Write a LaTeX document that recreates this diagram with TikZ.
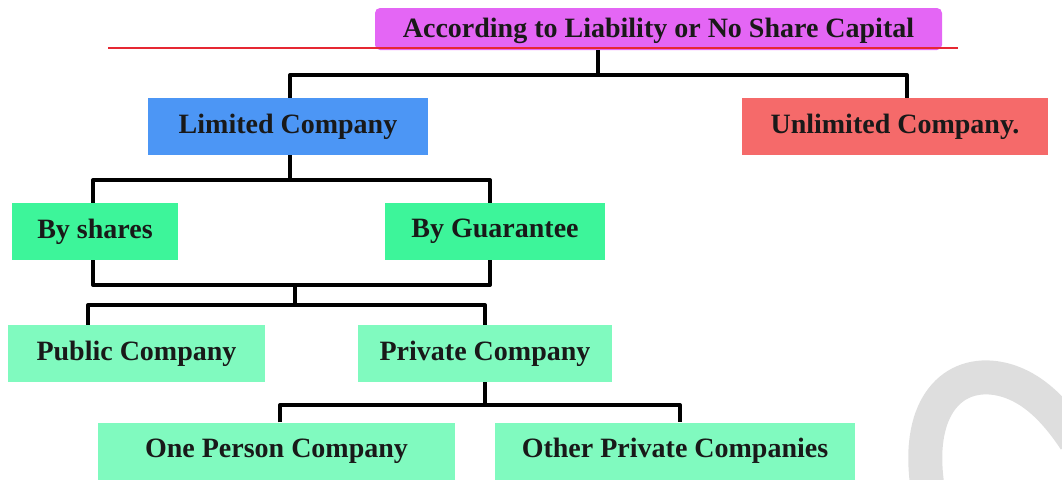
\documentclass[tikz,border=0pt]{standalone}
\usepackage{fontspec}
\setmainfont{Liberation Serif}
\definecolor{cmag}{HTML}{E466F5}
\definecolor{cblue}{HTML}{4C96F5}
\definecolor{cred}{HTML}{F56A6A}
\definecolor{cgreen}{HTML}{3DF59A}
\definecolor{clight}{HTML}{80FABF}
\definecolor{redline}{RGB}{230,40,50}
\begin{document}
\begin{tikzpicture}[x=1pt,y=-1pt,
  box/.style={rectangle, inner sep=0pt, font=\fontsize{28}{32}\selectfont\bfseries, text=black!90},
  conn/.style={line width=4pt, black, line join=round}]
\useasboundingbox (0,0) rectangle (1062,479);
\begin{scope}
\clip (0,0) rectangle (1062,479);
\draw[line width=34pt, color=black!13] (928,490) .. controls (915,410) and (950,372) .. (995,378) .. controls (1030,383) and (1055,410) .. (1075,440);
\end{scope}
% nodes
\node[box, fill=cmag, rounded corners=5pt, minimum width=567pt, minimum height=42pt, text depth=2pt] (top) at (658.5,29) {According to Liability or No Share Capital};
\fill[redline] (108,46.5) rectangle (958,48.5);
\node[box, fill=cblue, minimum width=280pt, minimum height=57pt] (lim) at (288,126.5) {Limited Company};
\node[box, fill=cred, minimum width=306pt, minimum height=57pt] (unl) at (895,126.5) {Unlimited Company.};
\node[box, fill=cgreen, minimum width=166pt, minimum height=57pt] (shares) at (95,231.5) {By shares};
\node[box, fill=cgreen, minimum width=220pt, minimum height=57pt] (guar) at (495,231.5) {By Guarantee};
\node[box, fill=clight, minimum width=257pt, minimum height=57pt] (pub) at (136.5,353.5) {Public Company};
\node[box, fill=clight, minimum width=254pt, minimum height=57pt] (priv) at (485,353.5) {Private Company};
\node[box, fill=clight, minimum width=357pt, minimum height=57pt] (one) at (276.5,451) {One Person Company};
\node[box, fill=clight, minimum width=360pt, minimum height=57pt] (oth) at (675,451) {Other Private Companies};
% connectors
\coordinate (j1) at (598,75);
\draw[conn] (top.south -| j1) -- (j1);
\draw[conn] (lim.north -| 290,0) -- (290,75) -- (907,75) -- (907,98);
\draw[conn] (lim.south -| 290,0) -- (290,180);
\draw[conn] (shares.north -| 93,0) -- (93,180) -- (490,180) -- (guar.north -| 490,0);
\draw[conn] (shares.south -| 93,0) -- (93,285) -- (490,285) -- (guar.south -| 490,0);
\draw[conn] (295,285) -- (295,305);
\draw[conn] (pub.north -| 88,0) -- (88,305) -- (485,305) -- (priv.north -| 485,0);
\draw[conn] (priv.south -| 485,0) -- (485,405);
\draw[conn] (one.north -| 280,0) -- (280,405) -- (680,405) -- (oth.north -| 680,0);
\end{tikzpicture}
\end{document}
